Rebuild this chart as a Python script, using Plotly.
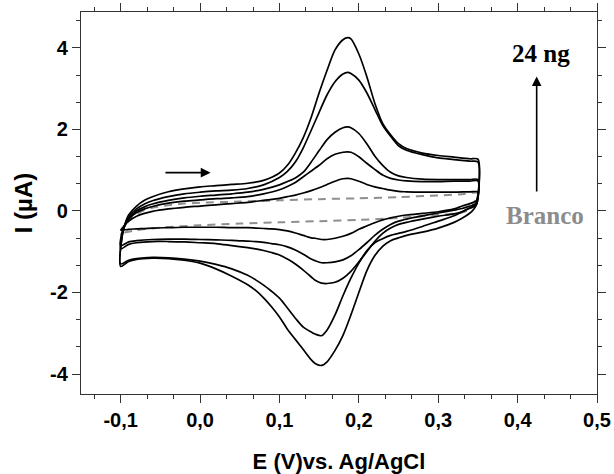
import plotly.graph_objects as go

# Potential grids (V vs Ag/AgCl)
E_fwd = [-0.1, -0.098, -0.095, -0.09, -0.08, -0.07, -0.06, -0.04, -0.02, 0.0, 0.02, 0.04, 0.06, 0.08,
         0.10, 0.11, 0.12, 0.13, 0.14, 0.15, 0.16, 0.17, 0.18, 0.186, 0.19, 0.20, 0.21, 0.22, 0.23, 0.24,
         0.25, 0.26, 0.28, 0.30, 0.32, 0.34, 0.35]
E_rev = [0.35, 0.348, 0.345, 0.34, 0.33, 0.32, 0.30, 0.28, 0.26, 0.25, 0.24, 0.23, 0.22, 0.21, 0.20,
         0.19, 0.18, 0.17, 0.16, 0.153, 0.145, 0.14, 0.13, 0.12, 0.11, 0.10, 0.09, 0.08, 0.07, 0.06,
         0.04, 0.02, 0.0, -0.02, -0.04, -0.06, -0.08, -0.09, -0.1]

# Current (uA), forward (anodic) scans
c1_fwd = [-0.47, -0.42, -0.35, -0.25, -0.13, -0.06, -0.01, 0.05, 0.09, 0.12, 0.15, 0.18, 0.21, 0.26,
          0.31, 0.35, 0.39, 0.44, 0.50, 0.57, 0.65, 0.73, 0.79, 0.80, 0.79, 0.73, 0.65, 0.59, 0.55, 0.51,
          0.48, 0.47, 0.46, 0.46, 0.46, 0.47, 0.47]
c2_fwd = [-0.85, -0.50, -0.35, -0.20, -0.04, 0.05, 0.11, 0.19, 0.24, 0.27, 0.30, 0.32, 0.35, 0.42,
          0.52, 0.60, 0.70, 0.84, 0.98, 1.12, 1.28, 1.39, 1.44, 1.45, 1.44, 1.33, 1.17, 1.02, 0.88, 0.80,
          0.76, 0.74, 0.72, 0.72, 0.73, 0.73, 0.74]
c3_fwd = [-0.93, -0.55, -0.38, -0.20, 0.00, 0.10, 0.17, 0.26, 0.32, 0.36, 0.39, 0.42, 0.46, 0.53,
          0.64, 0.72, 0.81, 0.95, 1.20, 1.48, 1.75, 1.93, 2.04, 2.06, 2.04, 1.90, 1.65, 1.35, 1.12, 0.95,
          0.86, 0.82, 0.78, 0.77, 0.77, 0.77, 0.77]
c4_fwd = [-1.30, -0.60, -0.35, -0.15, 0.05, 0.17, 0.25, 0.35, 0.42, 0.46, 0.49, 0.51, 0.55, 0.64,
          0.82, 0.97, 1.20, 1.55, 1.98, 2.42, 2.85, 3.17, 3.36, 3.40, 3.37, 3.21, 2.90, 2.50, 2.10, 1.83,
          1.60, 1.49, 1.38, 1.30, 1.26, 1.22, 1.20]
c5_fwd = [-1.36, -0.60, -0.35, -0.10, 0.12, 0.26, 0.35, 0.47, 0.54, 0.59, 0.62, 0.65, 0.68, 0.75,
          0.93, 1.12, 1.42, 1.80, 2.30, 2.90, 3.45, 3.95, 4.20, 4.25, 4.22, 3.85, 3.30, 2.65, 2.15, 1.87,
          1.65, 1.53, 1.42, 1.36, 1.32, 1.28, 1.27]

# Current (uA), reverse (cathodic) scans
c1_rev = [0.40, 0.25, 0.22, 0.18, 0.12, 0.05, -0.02, -0.06, -0.10, -0.13, -0.17, -0.22, -0.29, -0.37,
          -0.45, -0.55, -0.62, -0.67, -0.70, -0.70, -0.67, -0.66, -0.60, -0.54, -0.49, -0.46, -0.44,
          -0.43, -0.42, -0.41, -0.41, -0.40, -0.40, -0.40, -0.41, -0.42, -0.44, -0.45, -0.47]
c2_rev = [0.35, 0.20, 0.15, 0.12, 0.06, 0.02, -0.05, -0.12, -0.20, -0.25, -0.33, -0.45, -0.60, -0.78,
          -0.95, -1.10, -1.20, -1.25, -1.27, -1.27, -1.22, -1.18, -1.06, -0.96, -0.88, -0.83, -0.80,
          -0.77, -0.75, -0.74, -0.72, -0.71, -0.70, -0.69, -0.69, -0.70, -0.73, -0.76, -0.85]
c3_rev = [0.30, 0.15, 0.10, 0.07, -0.02, -0.07, -0.13, -0.20, -0.28, -0.33, -0.42, -0.55, -0.75, -1.00,
          -1.25, -1.48, -1.65, -1.75, -1.78, -1.77, -1.70, -1.62, -1.45, -1.30, -1.18, -1.08, -1.02,
          -0.97, -0.93, -0.90, -0.85, -0.80, -0.78, -0.76, -0.75, -0.75, -0.78, -0.82, -0.93]
c4_rev = [0.35, 0.20, 0.12, 0.08, -0.02, -0.12, -0.25, -0.38, -0.50, -0.55, -0.60, -0.68, -0.78, -0.98,
          -1.28, -1.65, -2.08, -2.55, -2.92, -3.06, -3.02, -2.97, -2.85, -2.63, -2.38, -2.14, -1.97,
          -1.82, -1.69, -1.58, -1.42, -1.31, -1.23, -1.18, -1.15, -1.14, -1.17, -1.21, -1.30]
c5_rev = [0.30, 0.15, 0.05, -0.05, -0.18, -0.28, -0.42, -0.52, -0.60, -0.66, -0.73, -0.87, -1.10, -1.47,
          -2.00, -2.55, -3.05, -3.42, -3.70, -3.79, -3.74, -3.65, -3.40, -3.15, -2.90, -2.60, -2.35,
          -2.13, -1.95, -1.81, -1.60, -1.42, -1.28, -1.21, -1.17, -1.16, -1.19, -1.24, -1.36]

# Blank (Branco)
blank_E = [-0.1, -0.095, -0.09, -0.08, -0.07, -0.06, -0.04, -0.02, 0.0, 0.05, 0.1, 0.15, 0.2, 0.25,
           0.3, 0.33, 0.35, 0.345, 0.34, 0.33, 0.3, 0.25, 0.2, 0.15, 0.1, 0.05, 0.0, -0.05, -0.08, -0.1]
blank_I = [-0.6, -0.4, -0.25, -0.08, 0.02, 0.08, 0.14, 0.18, 0.2, 0.23, 0.26, 0.29, 0.31, 0.34,
           0.38, 0.41, 0.44, 0.2, 0.05, -0.04, -0.1, -0.17, -0.22, -0.25, -0.28, -0.31, -0.35, -0.41,
           -0.47, -0.55]

x_ticks = [-0.1, 0.0, 0.1, 0.2, 0.3, 0.4, 0.5]
x_tick_text = ["-0,1", "0,0", "0,1", "0,2", "0,3", "0,4", "0,5"]
y_ticks = [-4, -2, 0, 2, 4]
y_tick_text = ["-4", "-2", "0", "2", "4"]

fig = go.Figure()
fig.add_trace(go.Scatter(x=blank_E, y=blank_I, mode="lines",
                         line=dict(color="#8f8f8f", width=2, dash="8px,6px", shape="spline", smoothing=0.8),
                         showlegend=False, hoverinfo="skip"))
for fwd, rev in [(c1_fwd, c1_rev), (c2_fwd, c2_rev), (c3_fwd, c3_rev), (c4_fwd, c4_rev), (c5_fwd, c5_rev)]:
    fig.add_trace(go.Scatter(x=E_fwd + E_rev, y=fwd + rev, mode="lines",
                             line=dict(color="black", width=1.7, shape="spline", smoothing=0.8),
                             showlegend=False, hoverinfo="skip"))

tickfont = dict(family="Liberation Sans, Arial", size=20, color="black", weight="bold")
xtitlefont = dict(family="Liberation Sans, Arial", size=22, color="black", weight="bold")
ytitlefont = dict(family="Liberation Sans, Arial", size=24, color="black", weight="bold")

fig.update_xaxes(range=[-0.15, 0.5], tickvals=x_ticks, ticktext=x_tick_text,
                 showgrid=False, zeroline=False, showline=True, linecolor="#333", linewidth=1.3,
                 mirror="ticks", ticks="outside", ticklen=8, tickcolor="#333", tickwidth=1.2,
                 minor=dict(dtick=0.1 / 3, tick0=0, ticks="outside", ticklen=4, tickcolor="#333"),
                 tickfont=tickfont,
                 title=dict(text="E (V)vs. Ag/AgCl", font=xtitlefont, standoff=23))
fig.update_yaxes(range=[-4.49, 4.88], tickvals=y_ticks, ticktext=y_tick_text,
                 showgrid=False, zeroline=False, showline=True, linecolor="#333", linewidth=1.3,
                 mirror="ticks", ticks="outside", ticklen=8, tickcolor="#333", tickwidth=1.2,
                 minor=dict(dtick=2 / 3, tick0=0, ticks="outside", ticklen=4, tickcolor="#333"),
                 tickfont=tickfont,
                 title=dict(text="I (µA)", font=ytitlefont, standoff=10))

# Arrows and labels
fig.add_annotation(x=0.424, y=3.30, ax=0.424, ay=0.44, xref="x", yref="y", axref="x", ayref="y",
                   text="", showarrow=True, arrowhead=2, arrowsize=1.2, arrowwidth=1.6, arrowcolor="black")
fig.add_annotation(x=0.0133, y=0.94, ax=-0.0455, ay=0.94, xref="x", yref="y", axref="x", ayref="y",
                   text="", showarrow=True, arrowhead=2, arrowsize=1.1, arrowwidth=1.8, arrowcolor="black")
fig.add_annotation(x=0.429, y=3.85, xref="x", yref="y", text="24 ng", showarrow=False,
                   font=dict(family="Liberation Serif, Times New Roman", size=25, color="black", weight="bold"))
fig.add_annotation(x=0.434, y=-0.12, xref="x", yref="y", text="Branco", showarrow=False,
                   font=dict(family="Liberation Serif, Times New Roman", size=25, color="#8c8c8c", weight="bold"))

fig.update_layout(width=614, height=474, margin=dict(l=81, r=17, t=12, b=80, autoexpand=False),
                  paper_bgcolor="white", plot_bgcolor="white")

fig.write_html("out.html")
